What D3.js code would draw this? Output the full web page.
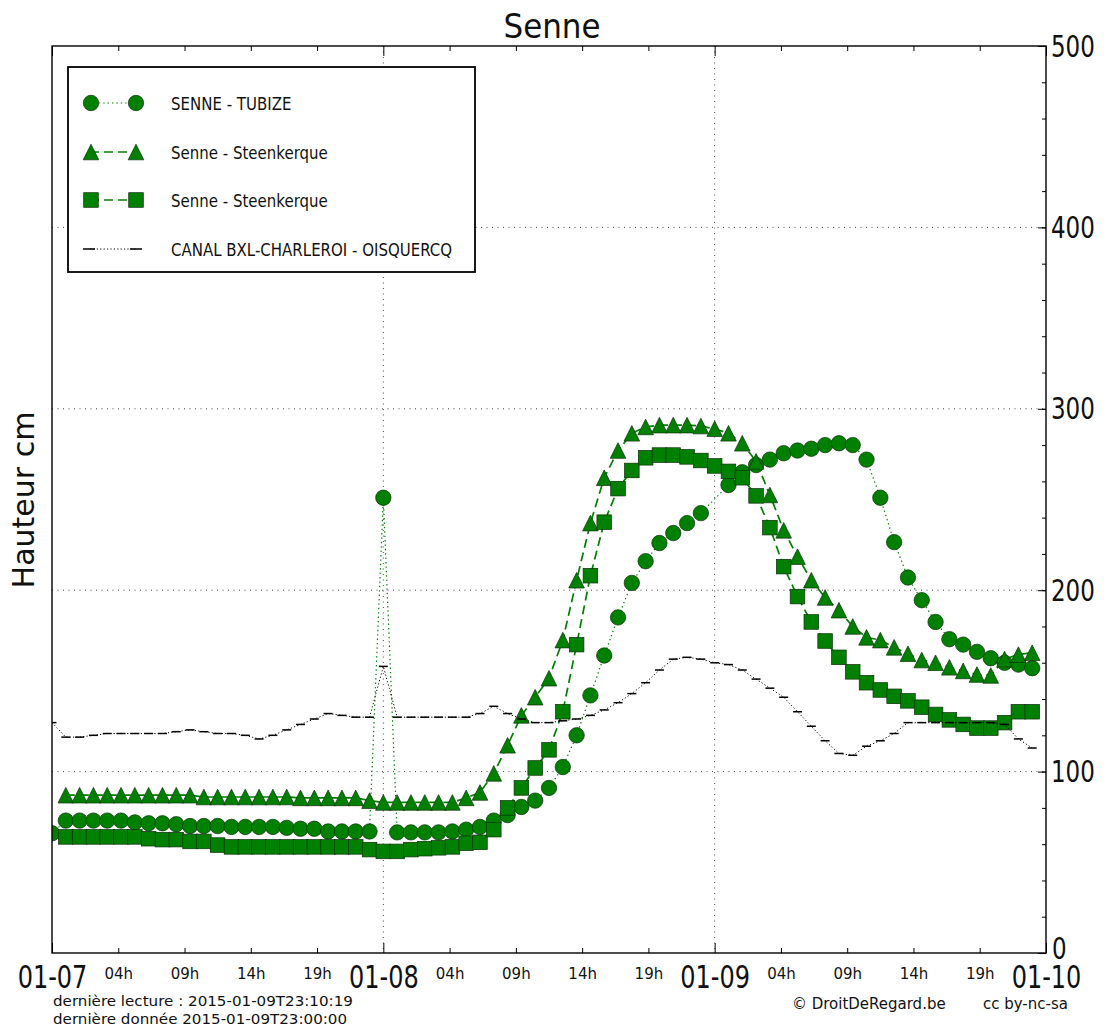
<!DOCTYPE html>
<html><head><meta charset="utf-8">
<script src="https://cdn.jsdelivr.net/npm/d3@7"></script>
<style>
body{margin:0;background:#fff;}
svg{display:block;font-family:"DejaVu Sans",sans-serif;}
</style>
</head><body>
<svg id="c" width="1110" height="1028"></svg>
<script>
// ---------- DATA ----------
const hours = d3.range(72); // hourly readings from 2015-01-07 00:00
const dayLabels = ["01-07","01-08","01-09","01-10"];
const hourLabels = ["04h","09h","14h","19h"];
const yTickValues = [0,100,200,300,400,500];
const seriesNames = ["SENNE - TUBIZE","Senne - Steenkerque","Senne - Steenkerque","CANAL BXL-CHARLEROI - OISQUERCQ"];

const tubize = [66, 73,73,73,73,73, 72, 71.5,71.5, 71, 70,70,70, 69.5,69.5,69.5,69.5, 69, 68.5,68.5, 67,67,67,67, 251, 66.5,66.5,66.5,66.5, 67,
  68,69.5,73,76,80.5,84,91,102.5,120,142,
  164,185,204,216,226,231.5,237,242.5,null,258,
  265,269,272,275.5,277,278,280,281,280,272,
  251,226.5,207,194.5,182.5,173,170,166,162.5,160,
  159,157];
const steenTri = [null, 87,87,87,87,87,87,87,87,87,87, 86,86,86,86,86,86,86, 85.5,85.5,85.5,85.5,85.5, 84, 83,83,83,83,83,83,
  85.5,88.5,99,114.5,131,141,151.5,172.5,205.5,237,
  262,277,286.5,290,291,291,291,290.5,289,286.5,
  281,271,252.5,233,218.5,205.5,196,189,180,174,
  172.5,168.5,165,161.5,160,157.5,155.5,153.5,153,162,
  164.5,165.5];
const steenSq = [null, 64,64,64,64,64,64, 63, 62.5,62.5, 61.5,61.5, 59.5, 58.5,58.5,58.5,58.5,58.5,58.5,58.5,58.5,58.5,58.5, 57, 56,56, 57,57.5,58,58.5,
  60.5,61,68,80,91,102,112,133,170,208,
  237.5,256,266,273,274.5,274.5,273.5,271.5,268.5,265.5,
  262,252,234.5,213,196.5,182.5,172,163,155,149,
  145,141.5,139,135.5,131.5,128.5,126,124,124,127,
  133,133];
const canal = [127, 119,119,120,121,121,121,121,121,122,
  123,122,121,121,120,118,120,123,126,129,
  132,131,130,130,158,130,130,130,130,130,
  130,132,136,132,129,127,127,128,129,131,
  134,138,143,149,156,162,163,162,160,159,
  156,151,146,141,133,125,117,110,109,114,
  117,121,127,127,127,127,127,127,127,126,
  118,113];

// ---------- SETUP ----------
const svg = d3.select("#c");
const m = {l:52, r:1046, t:46, b:953};
const x = d3.scaleLinear().domain([0,72]).range([m.l,m.r]);
const y = d3.scaleLinear().domain([0,500]).range([m.b,m.t]);
const GREEN = "#008000";

function txt(parent, px, py, s, size, sx, sy, anchor){
  return parent.append("text")
    .attr("transform", `translate(${px},${py}) scale(${sx},${sy})`)
    .attr("font-size", size).attr("text-anchor", anchor||"start")
    .attr("fill","#111").text(s);
}

svg.append("rect").attr("width",1110).attr("height",1028).attr("fill","#fff");

svg.append("clipPath").attr("id","clip").append("rect")
  .attr("x",m.l).attr("y",m.t).attr("width",m.r-m.l).attr("height",m.b-m.t);

// grid
const grid = svg.append("g").attr("stroke","#333").attr("stroke-width",0.9).attr("stroke-dasharray","1,4.5");
[100,200,300,400].forEach(v => grid.append("line").attr("x1",m.l).attr("x2",m.r).attr("y1",y(v)).attr("y2",y(v)));
[24,48].forEach(v => grid.append("line").attr("y1",m.t).attr("y2",m.b).attr("x1",x(v)).attr("x2",x(v)));

const series = (arr) => hours.map(h => ({h, v: arr[h]})).filter(d => d.v != null);
const line = d3.line().x(d => x(d.h)).y(d => y(d.v));
const plot = svg.append("g").attr("clip-path","url(#clip)");

// marker shapes
function circleM(g, cx, cy){ g.append("circle").attr("cx",cx).attr("cy",cy).attr("r",7.7); }
function triM(g, cx, cy){ const s=7.8; g.append("path").attr("d",`M${cx},${cy-s}L${cx-s},${cy+s}L${cx+s},${cy+s}Z`); }
function sqM(g, cx, cy){ const s=7.3; g.append("rect").attr("x",cx-s).attr("y",cy-s).attr("width",2*s).attr("height",2*s); }
function barM(g, cx, cy){ g.append("line").attr("x1",cx-4.5).attr("x2",cx+4.5).attr("y1",cy).attr("y2",cy); }

const specs = [
  {data: tubize, dash:"1.4,3", lw:1.2, color:GREEN, marker:circleM},
  {data: steenTri, dash:"9,5", lw:1.7, color:GREEN, marker:triM},
  {data: steenSq, dash:"9,5", lw:1.7, color:GREEN, marker:sqM},
  {data: canal, dash:"1.2,2.2", lw:1, color:"#000", marker:barM}
];

specs.forEach((sp,i) => {
  const d = series(sp.data);
  plot.append("path").datum(d).attr("d", line).attr("fill","none")
    .attr("stroke", sp.color).attr("stroke-width", sp.lw).attr("stroke-dasharray", sp.dash);
  const mg = plot.append("g");
  if (i < 3) mg.attr("fill", GREEN).attr("stroke","#0b2f0b").attr("stroke-width",0.7);
  else mg.attr("stroke","#000").attr("stroke-width",1.5);
  d.forEach(p => sp.marker(mg, x(p.h), y(p.v)));
});

// ---------- AXES ----------
const minorVals = [];
for (let dd=0; dd<3; dd++) for (let k=1; k<=4; k++) minorVals.push(dd*24 + k*4.8);
const majorVals = [0,24,48,72];

// bottom minor
const bMin = svg.append("g").attr("transform",`translate(0,${m.b})`)
  .call(d3.axisBottom(x).tickValues(minorVals).tickSizeInner(-5).tickSizeOuter(0)
        .tickFormat((d,i) => hourLabels[i%4]));
bMin.select(".domain").remove();
bMin.selectAll("text").attr("y",null).attr("dy",null)
  .attr("transform","translate(0,26)").attr("font-size",15).attr("font-family","DejaVu Sans").attr("fill","#111");
// bottom major
const bMaj = svg.append("g").attr("transform",`translate(0,${m.b})`)
  .call(d3.axisBottom(x).tickValues(majorVals).tickSizeInner(-10).tickSizeOuter(0)
        .tickFormat((d,i) => dayLabels[i]));
bMaj.select(".domain").remove();
bMaj.selectAll("text").attr("y",null).attr("dy",null)
  .attr("transform","translate(0,35) scale(1,1.35)").attr("font-size",24).attr("font-family","DejaVu Sans").attr("fill","#111");
// top ticks
const tMin = svg.append("g").attr("transform",`translate(0,${m.t})`)
  .call(d3.axisTop(x).tickValues(minorVals).tickSizeInner(-5).tickSizeOuter(0).tickFormat(""));
tMin.select(".domain").remove();
const tMaj = svg.append("g").attr("transform",`translate(0,${m.t})`)
  .call(d3.axisTop(x).tickValues(majorVals).tickSizeInner(-10).tickSizeOuter(0).tickFormat(""));
tMaj.select(".domain").remove();
// right axis
const rMin = svg.append("g").attr("transform",`translate(${m.r},0)`)
  .call(d3.axisRight(y).tickValues(d3.range(0,501,20)).tickSizeInner(-4).tickSizeOuter(0).tickFormat(""));
rMin.select(".domain").remove();
const rMaj = svg.append("g").attr("transform",`translate(${m.r},0)`)
  .call(d3.axisRight(y).tickValues(yTickValues).tickSizeInner(-8).tickSizeOuter(0).tickFormat(d3.format("d")));
rMaj.select(".domain").remove();
rMaj.selectAll("text").attr("x",null).attr("dy",null)
  .attr("transform",d => d === 0 ? "translate(6,5) scale(1,1.3)" : "translate(5,10) scale(1,1.3)")
  .attr("font-size",23).attr("font-family","DejaVu Sans").attr("fill","#111");
svg.selectAll(".tick line").attr("stroke","#000").attr("stroke-width",1);

// frame
svg.append("rect").attr("x",m.l).attr("y",m.t).attr("width",m.r-m.l).attr("height",m.b-m.t)
  .attr("fill","none").attr("stroke","#000").attr("stroke-width",1.4);

// title & labels
txt(svg, 552, 38, "Senne", 31, 1, 1.1, "middle");
svg.append("text").attr("transform","translate(34,500) rotate(-90)")
  .attr("text-anchor","middle").attr("font-size",30).attr("fill","#111").text("Hauteur cm");

// ---------- LEGEND ----------
const lg = svg.append("g");
lg.append("rect").attr("x",68).attr("y",67).attr("width",407).attr("height",205)
  .attr("fill","#fff").attr("stroke","#000").attr("stroke-width",1.8);
const rowY = [103,152,200,249];
specs.forEach((sp,i) => {
  const yy = rowY[i];
  lg.append("line").attr("x1",90).attr("x2",137).attr("y1",yy).attr("y2",yy)
    .attr("stroke",sp.color).attr("stroke-width",sp.lw).attr("stroke-dasharray",sp.dash);
  const mg = lg.append("g");
  if (i < 3) { mg.attr("fill",GREEN).attr("stroke","#0b2f0b").attr("stroke-width",0.7);
    sp.marker(mg, 91, yy); sp.marker(mg, 136, yy); }
  else { mg.attr("stroke","#000").attr("stroke-width",1.5);
    mg.append("line").attr("x1",83).attr("x2",95).attr("y1",yy).attr("y2",yy);
    mg.append("line").attr("x1",130).attr("x2",142).attr("y1",yy).attr("y2",yy); }
  txt(lg, 171, yy+6.5, seriesNames[i], 15, 1, 1.15, "start");
});

// ---------- FOOTER ----------
txt(svg, 53, 1006, "dernière lecture : 2015-01-09T23:10:19", 13.5, 1.12, 1.05, "start");
txt(svg, 53, 1023.5, "dernière donnée  2015-01-09T23:00:00", 13.5, 1.12, 1.05, "start");
txt(svg, 792, 1009, "© DroitDeRegard.be", 15, 1, 1.1, "start");
txt(svg, 983, 1009, "cc by-nc-sa", 15, 1, 1.1, "start");
</script>
</body></html>
